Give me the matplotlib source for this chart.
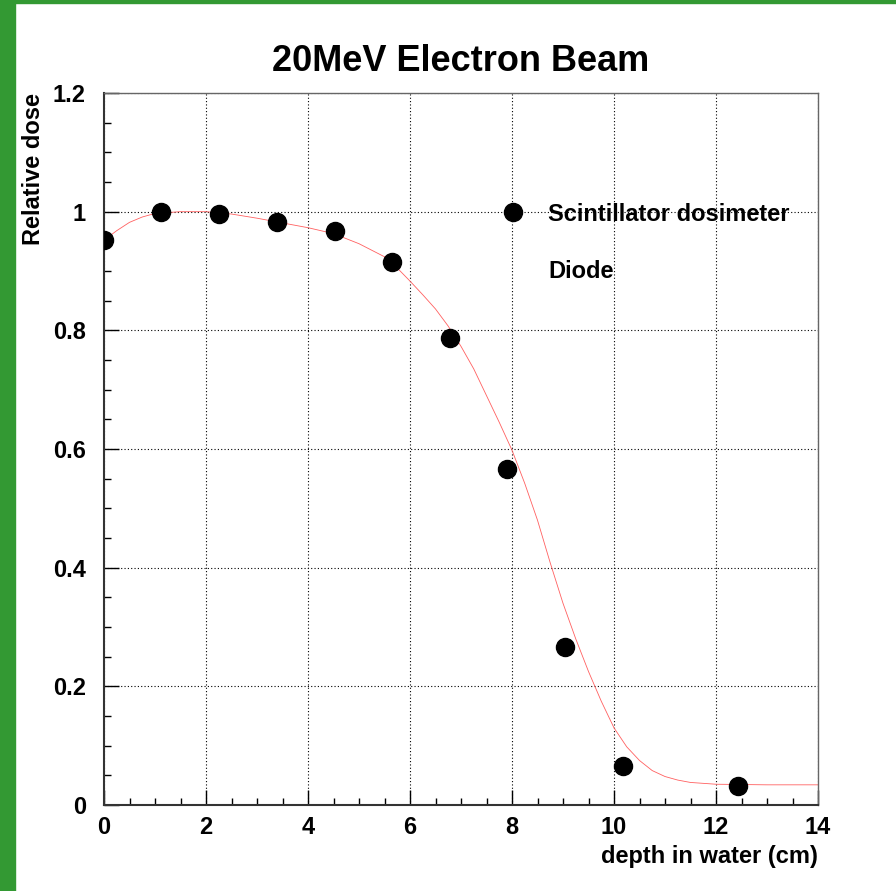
import matplotlib
matplotlib.use('Agg')
import matplotlib.pyplot as plt
from matplotlib.lines import Line2D
from matplotlib.patches import Rectangle
from matplotlib.ticker import MultipleLocator

# measured points (depth cm, relative dose)
depth = [0.0, 1.12, 2.25, 3.39, 4.53, 5.65, 6.78, 7.90, 9.04, 10.18, 12.43]
dose = [0.952, 1.000, 0.996, 0.983, 0.967, 0.915, 0.787, 0.566, 0.266, 0.066, 0.032]

# fitted curve
fit_x = [0.0, 0.25, 0.5, 0.75, 1.0, 1.5, 2.0, 2.5, 3.0, 3.5, 4.0, 4.5, 5.0, 5.5,
         5.75, 6.0, 6.25, 6.5, 6.75, 7.0, 7.25, 7.5, 7.75, 8.0, 8.25, 8.5, 8.75,
         9.0, 9.25, 9.5, 9.75, 10.0, 10.25, 10.5, 10.75, 11.0, 11.25, 11.5, 12.0,
         13.0, 14.0]
fit_y = [0.952, 0.968, 0.982, 0.991, 0.997, 1.000, 1.000, 0.996, 0.989, 0.981, 0.973,
         0.963, 0.946, 0.924, 0.905, 0.883, 0.860, 0.836, 0.807, 0.773, 0.735, 0.690,
         0.645, 0.598, 0.542, 0.480, 0.408, 0.340, 0.280, 0.225, 0.175, 0.130, 0.098,
         0.075, 0.058, 0.048, 0.042, 0.038, 0.035, 0.034, 0.034]

plt.rcParams['font.family'] = ['Liberation Sans', 'DejaVu Sans']
plt.rcParams['font.weight'] = 'bold'

fig = plt.figure(figsize=(8.96, 8.91), dpi=100)
fig.patch.set_facecolor('white')
# green frame on the left and top
fig.patches.append(Rectangle((0, 0), 15 / 896, 1, transform=fig.transFigure,
                             color='#339933', zorder=0))
fig.patches.append(Rectangle((0, 1 - 3 / 891), 1, 3 / 891, transform=fig.transFigure,
                             color='#339933', zorder=0))

ax = fig.add_axes([104 / 896, 1 - 805 / 891, 714 / 896, 712 / 891])
ax.set_xlim(0, 14)
ax.set_ylim(0, 1.2)

ax.grid(True, which='major', color='black', ls=(0, (1, 2)), lw=0.8)
ax.set_axisbelow(True)

ax.plot(fit_x, fit_y, color='#ff6060', lw=0.6, zorder=2)
pts, = ax.plot(depth, dose, 'o', color='black', ms=13, zorder=3)

ax.xaxis.set_major_locator(MultipleLocator(2))
ax.xaxis.set_minor_locator(MultipleLocator(0.5))
ax.yaxis.set_major_locator(MultipleLocator(0.2))
ax.yaxis.set_minor_locator(MultipleLocator(0.05))
ax.yaxis.set_major_formatter(matplotlib.ticker.FuncFormatter(lambda v, p: f'{v:g}'))

ax.tick_params(which='both', direction='in', top=False, right=False, labelsize=17, width=1)
ax.tick_params(which='major', length=11)
ax.tick_params(which='minor', length=5)
ax.tick_params(axis='y', pad=13)
ax.tick_params(axis='x', pad=8)

for s in ('left', 'bottom'):
    ax.spines[s].set_linewidth(1.5)
    ax.spines[s].set_color('#333333')
for s in ('top', 'right'):
    ax.spines[s].set_linewidth(1)
    ax.spines[s].set_color('#666666')

ax.set_title('20MeV Electron Beam', fontsize=26, fontweight='bold', pad=16)
ax.set_xlabel('depth in water (cm)', fontsize=17, fontweight='bold', loc='right', labelpad=4)
ax.set_ylabel('Relative dose', fontsize=17, fontweight='bold', loc='top', labelpad=6)

blank = Line2D([], [], ls='none', marker='')
ax.legend([pts, blank], ['Scintillator dosimeter', 'Diode'], loc='upper left',
          bbox_to_anchor=(0.556, 0.846), frameon=False, fontsize=17,
          handlelength=1.0, handletextpad=1.0, labelspacing=1.45,
          borderpad=0, borderaxespad=0)

plt.savefig('out.png', dpi=100, facecolor=fig.get_facecolor())
